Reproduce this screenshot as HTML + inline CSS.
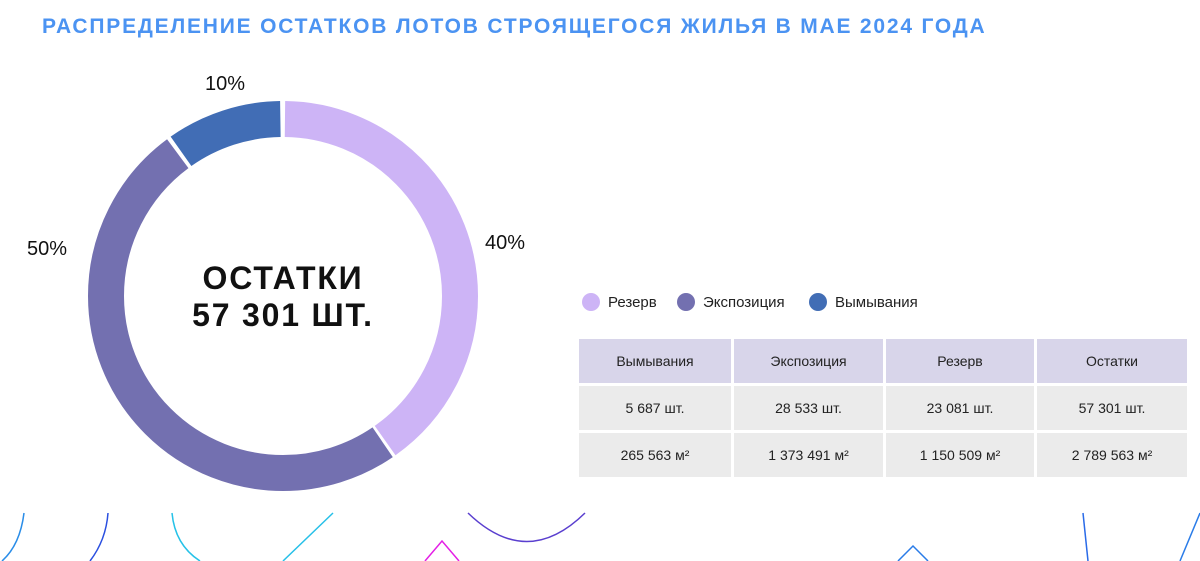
<!DOCTYPE html>
<html><head><meta charset="utf-8"><style>
body{margin:0;width:1200px;height:561px;background:#fff;position:relative;overflow:hidden;font-family:"Liberation Sans",sans-serif}
.t{position:absolute;left:42px;top:15px;font-size:21px;font-weight:bold;color:#4b93f2;letter-spacing:1.8px;white-space:nowrap}
.lbl{position:absolute;font-size:20px;color:#111}
.c{position:absolute;left:83px;width:400px;text-align:center;font-weight:bold;color:#111;font-size:32px;letter-spacing:1.8px}
.leg{position:absolute;top:293px;font-size:15px;color:#222;display:flex;align-items:center}
.leg span{display:inline-block;width:18px;height:18px;border-radius:50%;margin-right:8px}
table{position:absolute;left:579px;top:339px;border-collapse:separate;border-spacing:3px;margin:-3px}
td{height:44px;text-align:center;font-size:14px;color:#222;background:#ebebeb;padding:0}
tr.h td{background:#d8d5ea}
</style></head><body>
<div class="t">РАСПРЕДЕЛЕНИЕ ОСТАТКОВ ЛОТОВ СТРОЯЩЕГОСЯ ЖИЛЬЯ В МАЕ 2024 ГОДА</div>
<svg width="1200" height="561" style="position:absolute;left:0;top:0">
<g transform="translate(283,296) rotate(-90)" fill="none" stroke-width="36">
<circle r="177" stroke="#cdb4f6" stroke-dasharray="445 667.1" stroke-dashoffset="-2"/>
<circle r="177" stroke="#7370b0" stroke-dasharray="549 563.1" stroke-dashoffset="-450"/>
<circle r="177" stroke="#416db5" stroke-dasharray="106 1006.1" stroke-dashoffset="-1003"/>
</g>
<g fill="none" stroke-width="1.5">
<path d="M24 513 Q20 545 2 561" stroke="#2a8de8"/>
<path d="M108 513 Q106 540 90 561" stroke="#2a4fe0"/>
<path d="M172 513 Q175 545 200 561" stroke="#26c2e8"/>
<path d="M333 513 L283 561" stroke="#26c0e8"/>
<path d="M468 513 Q527 570 585 513" stroke="#5a3fcf"/>
<path d="M425 561 L442 541 L459 561" stroke="#e41fe6"/>
<path d="M898 561 L913 546 L928 561" stroke="#2a7ce8"/>
<path d="M1083 513 L1088 561" stroke="#2a6be8"/>
<path d="M1200 513 L1180 561" stroke="#2a7ce8"/>
</g>
</svg>
<div class="lbl" style="left:205px;top:73px">10%</div>
<div class="lbl" style="left:485px;top:232px">40%</div>
<div class="lbl" style="left:27px;top:238px">50%</div>
<div class="c" style="top:260px">ОСТАТКИ</div>
<div class="c" style="top:297px">57 301 ШТ.</div>
<div class="leg" style="left:582px"><span style="background:#cdb4f6"></span>Резерв</div>
<div class="leg" style="left:677px"><span style="background:#7370b0"></span>Экспозиция</div>
<div class="leg" style="left:809px"><span style="background:#416db5"></span>Вымывания</div>
<table>
<tr class="h"><td style="width:152px">Вымывания</td><td style="width:149px">Экспозиция</td><td style="width:148px">Резерв</td><td style="width:150px">Остатки</td></tr>
<tr><td>5 687 шт.</td><td>28 533 шт.</td><td>23 081 шт.</td><td>57 301 шт.</td></tr>
<tr><td>265 563 м²</td><td>1 373 491 м²</td><td>1 150 509 м²</td><td>2 789 563 м²</td></tr>
</table>
</body></html>
